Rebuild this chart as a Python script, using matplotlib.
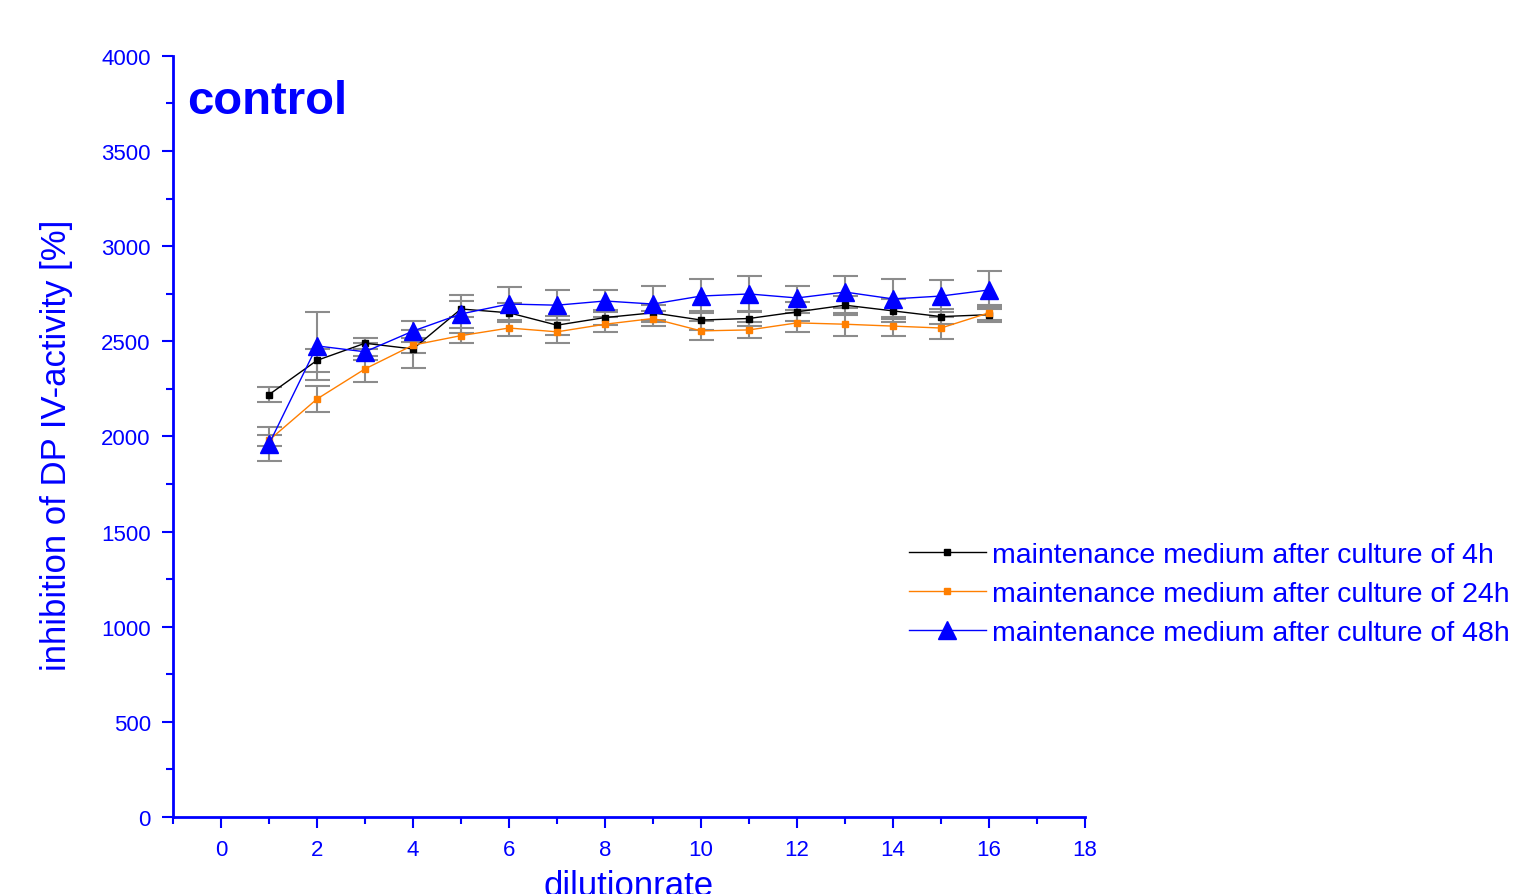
import numpy as np
import matplotlib.pyplot as plt

plt.rcParams['font.family'] = ['Liberation Sans', 'DejaVu Sans']

# dilution steps
x = np.arange(1, 17)

# mean inhibition values
h4 = [2220, 2400, 2490, 2460, 2670, 2650, 2585, 2625, 2650, 2612, 2620, 2655, 2690, 2660, 2630, 2640]
h24 = [1980, 2197, 2355, 2480, 2530, 2570, 2550, 2590, 2620, 2555, 2560, 2597, 2590, 2580, 2570, 2650]
h48 = [1960, 2476, 2445, 2554, 2644, 2696, 2690, 2712, 2696, 2738, 2749, 2728, 2759, 2723, 2738, 2770]

# standard deviations (estimated)
h4_err = [40, 60, 30, 100, 40, 50, 50, 40, 40, 50, 40, 50, 50, 60, 40, 40]
h24_err = [30, 70, 70, 40, 40, 40, 60, 40, 40, 50, 40, 50, 60, 50, 60, 40]
h48_err = [90, 180, 45, 55, 100, 90, 80, 60, 95, 90, 95, 63, 85, 105, 85, 100]

labels = ['maintenance medium after culture of 4h',
          'maintenance medium after culture of 24h',
          'maintenance medium after culture of 48h']

blue = '#0000ff'
grey = '#8c8c8c'

fig = plt.figure(figsize=(15.23, 8.95), dpi=100)
ax = fig.add_axes([0.1136, 0.086, 0.5988, 0.8504])

series = [
    (h4, h4_err, 'black', 's', 5),
    (h24, h24_err, '#ff7f00', 's', 5),
    (h48, h48_err, blue, '^', 13),
]
for (y, err, c, m, ms), lab in zip(series, labels):
    ax.errorbar(x, y, yerr=err, fmt='none', ecolor=grey, elinewidth=1.5,
                capsize=9, capthick=1.5, zorder=1)
    ax.plot(x, y, color=c, lw=1, marker=m, ms=ms, mec=c, mfc=c,
            label=lab, zorder=3)

ax.set_xlim(-1, 18)
ax.set_ylim(0, 4000)
ax.set_xticks(np.arange(0, 19, 2))
ax.set_xticks(np.arange(-1, 19, 1), minor=True)
ax.set_yticks(np.arange(0, 4001, 500))
ax.set_yticks(np.arange(0, 4001, 250), minor=True)

for s in ['top', 'right']:
    ax.spines[s].set_visible(False)
for s in ['left', 'bottom']:
    ax.spines[s].set_color(blue)
    ax.spines[s].set_linewidth(2)

ax.tick_params(axis='both', which='major', direction='out', length=8, width=1.5,
               colors=blue, labelsize=16, pad=8)
ax.tick_params(axis='both', which='minor', direction='out', length=5, width=1.5,
               colors=blue)

ax.set_xlabel('dilutionrate', color=blue, fontsize=25, labelpad=6)
ax.set_ylabel('inhibition of DP IV-activity [%]', color=blue, fontsize=25)
ax.yaxis.set_label_coords(-0.11, 0.49)

ax.text(0.015, 0.97, 'control', transform=ax.transAxes, color=blue,
        fontsize=34, fontweight='bold', va='top', ha='left')

leg = fig.legend(loc='upper left', bbox_to_anchor=(0.58, 0.422), frameon=False,
                 fontsize=20.5, handlelength=2.7, handletextpad=0.2, labelspacing=0.45,
                 labelcolor=blue)

fig.savefig('out.png', dpi=100)
